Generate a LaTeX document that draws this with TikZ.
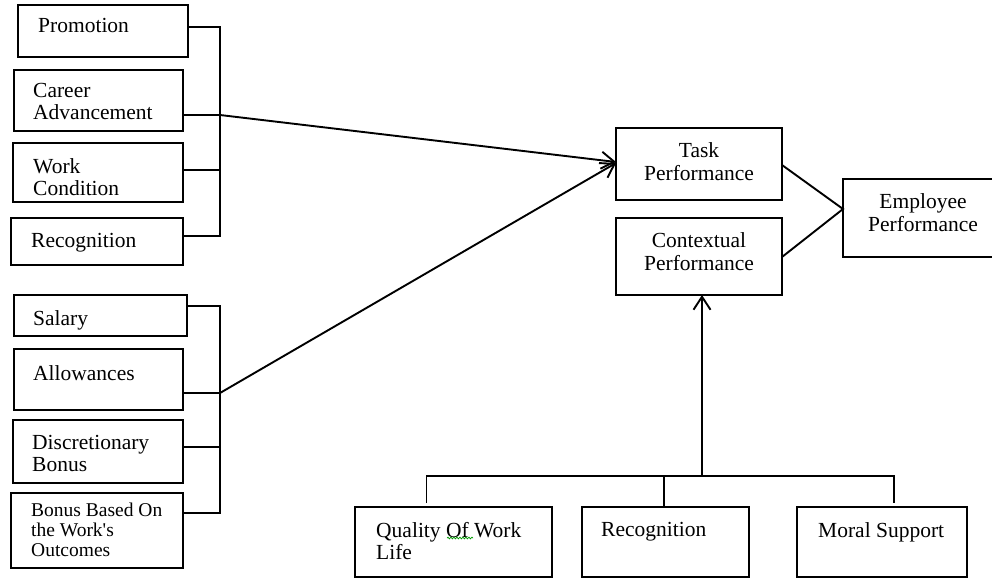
\documentclass[tikz,border=0pt]{standalone}
\usepackage{fontspec}
\setmainfont{Liberation Serif}
\usetikzlibrary{arrows.meta,decorations.pathmorphing}
\tikzset{
    box/.style={draw, line width=1.9pt, anchor=north west, inner sep=0pt, outer sep=0pt},
    txt/.style={anchor=north west, inner sep=0pt, align=left, font=\fontsize{21.5}{22}\selectfont},
    smalltxt/.style={anchor=north west, inner sep=0pt, align=left, font=\fontsize{19.5}{20}\selectfont},
    ctxt/.style={anchor=north, inner sep=0pt, align=center, font=\fontsize{21.5}{23}\selectfont},
    link/.style={line width=1.9pt},
    arr/.style={line width=1.9pt, -{Straight Barb[length=13pt,width=17pt]}}
}
\begin{document}
\begin{tikzpicture}[x=1pt,y=-1pt]
    \useasboundingbox (0,0) rectangle (992,579);
    % left factors, first group
    \node[box, minimum width=170pt, minimum height=52pt] (prom) at (18,5) {};
    \node[txt] (prom-t) at ([xshift=20pt,yshift=-13pt]prom.north west) {Promotion};
    \node[box, minimum width=169pt, minimum height=61pt] (career) at (14,70) {};
    \node[txt] (career-t) at ([xshift=19pt,yshift=-13pt]career.north west) {Career\\Advancement};
    \node[box, minimum width=170pt, minimum height=59pt] (work) at (13,143) {};
    \node[txt] (work-t) at ([xshift=20pt,yshift=-15pt]work.north west) {Work\\Condition};
    \node[box, minimum width=172pt, minimum height=47pt] (recogA) at (11,218) {};
    \node[txt] (recogA-t) at ([xshift=20pt,yshift=-15pt]recogA.north west) {Recognition};
    % left factors, second group
    \node[box, minimum width=173pt, minimum height=41pt] (salary) at (14,295) {};
    \node[txt] (salary-t) at ([xshift=19pt,yshift=-15pt]salary.north west) {Salary};
    \node[box, minimum width=169pt, minimum height=61pt] (allow) at (14,349) {};
    \node[txt] (allow-t) at ([xshift=19pt,yshift=-16pt]allow.north west) {Allowances};
    \node[box, minimum width=170pt, minimum height=63pt] (discr) at (13,420) {};
    \node[txt] (discr-t) at ([xshift=19pt,yshift=-15pt]discr.north west) {Discretionary\\Bonus};
    \node[box, minimum width=172pt, minimum height=75pt] (bonus) at (11,493) {};
    \node[smalltxt] (bonus-t) at ([xshift=20pt,yshift=-10pt]bonus.north west) {Bonus Based On\\the Work\textquotesingle s\\Outcomes};
    % performance boxes
    \node[box, minimum width=166pt, minimum height=72pt] (task) at (616,128) {};
    \node[ctxt] (task-t) at ([yshift=-14pt]task.north) {Task\\Performance};
    \node[box, minimum width=166pt, minimum height=77pt] (context) at (616,218) {};
    \node[ctxt] (context-t) at ([yshift=-14pt]context.north) {Contextual\\Performance};
    \node[box, minimum width=160pt, minimum height=78pt] (employee) at (843,179) {};
    \node[ctxt] (employee-t) at ([yshift=-14pt]employee.north) {Employee\\Performance};
    % bottom factors
    \node[box, minimum width=197pt, minimum height=70pt] (quality) at (355,507) {};
    \node[txt] (quality-t) at ([xshift=21pt,yshift=-15pt]quality.north west) {Quality Of Work\\Life};
    \draw[green!60!black, line width=0.7pt, decorate, decoration={snake, amplitude=0.9pt, segment length=3pt}] (447,538) -- (473,538);
    \node[box, minimum width=167pt, minimum height=70pt] (recogB) at (582,507) {};
    \node[txt] (recogB-t) at ([xshift=19pt,yshift=-15pt]recogB.north west) {Recognition};
    \node[box, minimum width=170pt, minimum height=70pt] (moral) at (797,507) {};
    \node[txt] (moral-t) at ([xshift=21pt,yshift=-15pt]moral.north west) {Moral Support};
    % junctions
    \coordinate (jA) at (220,115);
    \coordinate (jB) at (220,393);
    \coordinate (hub) at (702,476);
    % brackets on the left
    \draw[link] ([yshift=4pt]prom.east) -- (220,27) -- (220,236) -- ([yshift=5.5pt]recogA.east);
    \draw[link] ([yshift=-14.5pt]career.east) -- (jA);
    \draw[link] ([yshift=2.5pt]work.east) -- (220,170);
    \draw[link] ([yshift=9.5pt]salary.east) -- (220,306) -- (220,513) -- ([yshift=17.5pt]bonus.east);
    \draw[link] ([yshift=-13.5pt]allow.east) -- (jB);
    \draw[link] ([yshift=4.5pt]discr.east) -- (220,447);
    % arrows to task performance
    \draw[arr] (jA) -- ([yshift=2pt]task.west);
    \draw[arr] (jB) -- ([yshift=1pt]task.west);
    % to employee performance
    \draw[link] ([yshift=-1pt]task.east) -- ([yshift=9pt]employee.west) -- ([yshift=-0.5pt]context.east);
    % bottom bracket
    \draw[link] ([xshift=-27pt,yshift=4pt]quality.north) |- (hub) -| ([xshift=12pt,yshift=4pt]moral.north);
    \draw[link] ([xshift=-1.5pt]recogB.north) -- ([xshift=-1.5pt]recogB.north |- hub);
    \draw[arr] (hub) -- (hub |- context.south);
\end{tikzpicture}
\end{document}
